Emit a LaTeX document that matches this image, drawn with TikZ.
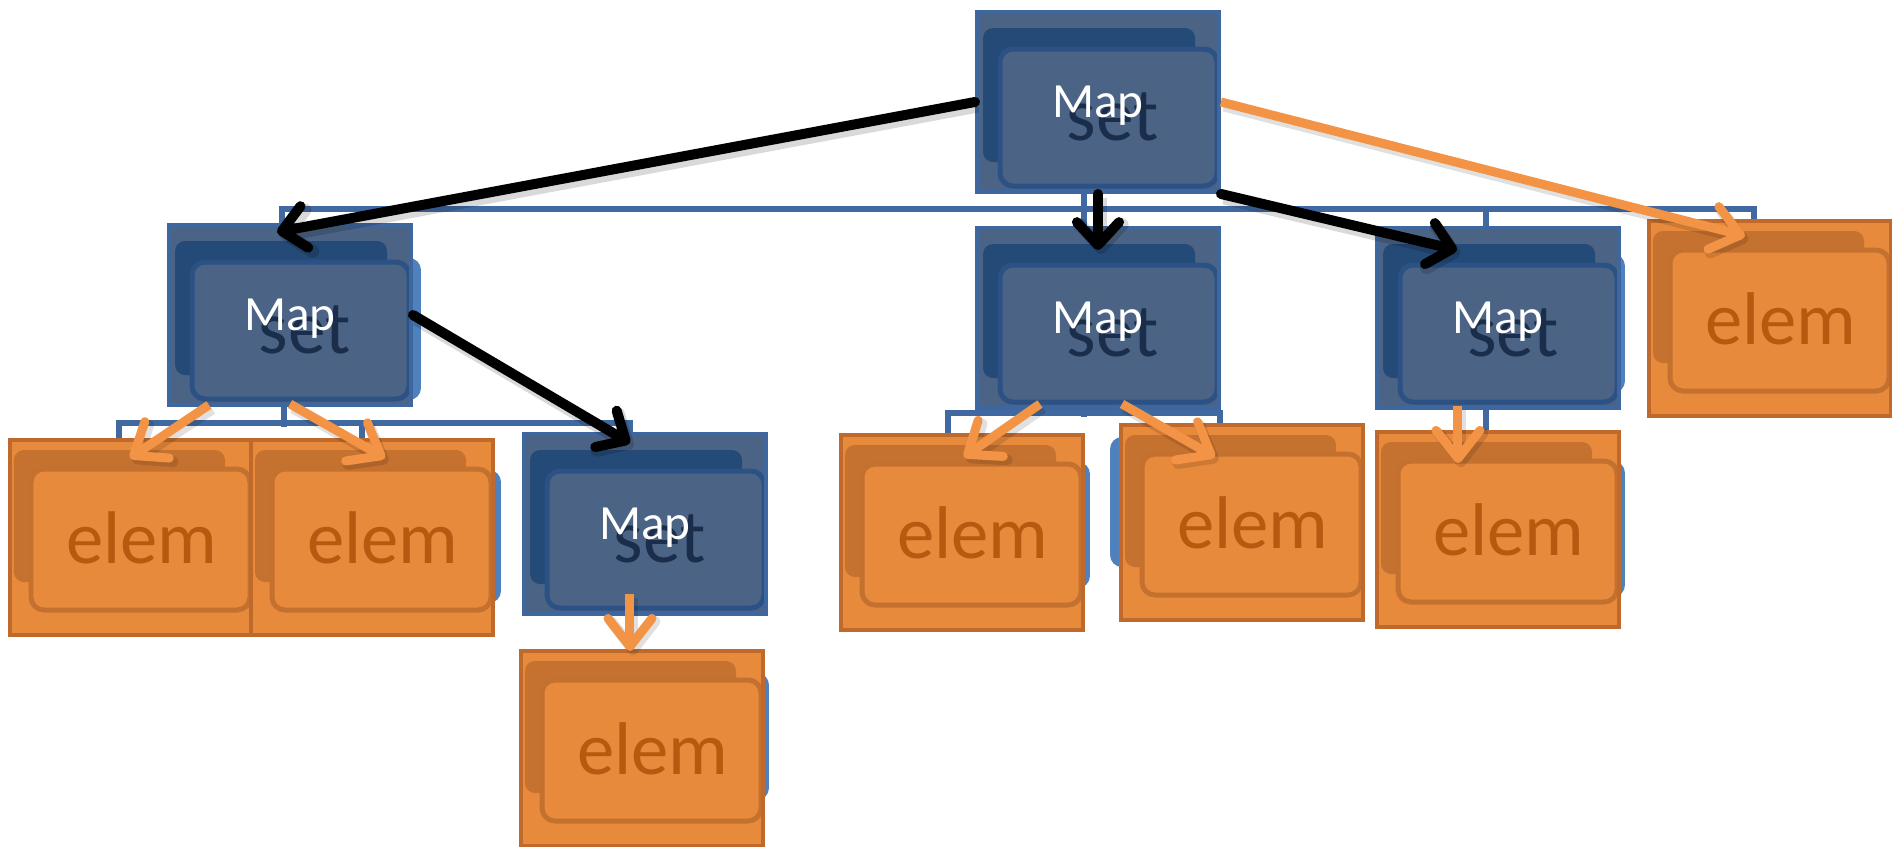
\documentclass[tikz,border=0pt]{standalone}
\usepackage{fontspec}
\setmainfont{Carlito}
\usepackage{xcolor}
\usepackage{tikz}
\usetikzlibrary{arrows.meta, backgrounds}
\definecolor{mapfill}{RGB}{75, 99, 133}
\definecolor{mapedge}{RGB}{62, 103, 160}
\definecolor{mapback}{RGB}{36, 74, 119}
\definecolor{mapfront}{RGB}{44, 82, 133}
\definecolor{setink}{RGB}{26, 46, 76}
\definecolor{elemfill}{RGB}{232, 138, 60}
\definecolor{elemedge}{RGB}{191, 106, 44}
\definecolor{elemback}{RGB}{197, 113, 47}
\definecolor{elemfront}{RGB}{196, 113, 47}
\definecolor{elemink}{RGB}{181, 90, 14}
\definecolor{chartblue}{RGB}{63, 105, 160}
\definecolor{ghostblue}{RGB}{79, 129, 189}
\definecolor{arroworange}{RGB}{243, 147, 69}

\begin{document}
\begin{tikzpicture}[
    x=0.02cm, y=-0.02cm,
    settext/.style={draw=none, fill=none, minimum width=0pt, minimum height=0pt, inner sep=0pt, anchor=base, text=setink, font=\fontsize{43}{50}\selectfont},
    mapbox/.style={draw=mapedge, fill=mapfill, line width=0.08cm, minimum width=4.84cm, minimum height=3.6cm, inner sep=0pt, anchor=north west,
        text=white, text depth=0pt, font=\fontsize{28}{33}\selectfont,
        path picture={
            \fill[mapback, rounded corners=0.2cm] ([shift={(6,16)}]path picture bounding box.north west) rectangle ([shift={(218,150)}]path picture bounding box.north west);
            \draw[mapfront, fill=mapfill, line width=0.1cm, rounded corners=0.26cm] ([shift={(23,37)}]path picture bounding box.north west) rectangle ([shift={(240,174)}]path picture bounding box.north west);
            \node[settext] at ([shift={(136,128)}]path picture bounding box.north west) {set};
        }},
    elembox/.style={draw=elemedge, fill=elemfill, line width=0.08cm, minimum width=4.84cm, minimum height=3.9cm, inner sep=0pt, anchor=north west,
        text=elemink, text depth=0pt, font=\fontsize{42.5}{50}\selectfont, execute at begin node={\hspace*{0.44cm}},
        path picture={
            \fill[elemback, rounded corners=0.2cm] ([shift={(4,10)}]path picture bounding box.north west) rectangle ([shift={(215,142)}]path picture bounding box.north west);
            \draw[elemfront, fill=elemfill, line width=0.1cm, rounded corners=0.26cm] ([shift={(21,29)}]path picture bounding box.north west) rectangle ([shift={(240,170)}]path picture bounding box.north west);
        }},
    chartline/.style={chartblue, line width=0.12cm},
    ghost/.style={fill=ghostblue, rounded corners=0.24cm},
    blackarrow/.style={-{Straight Barb[length=13pt, width=24pt, round]}, line width=0.2cm, line cap=round, black,
        preaction={draw=black, opacity=0.15, line width=0.26cm, transform canvas={shift={(0.06cm,-0.08cm)}}}},
    orangearrow/.style={-{Straight Barb[length=16pt, width=25pt, round]}, line width=0.18cm, arroworange,
        preaction={draw=black, opacity=0.12, line width=0.22cm, transform canvas={shift={(0.06cm,-0.08cm)}}}}
]
    \useasboundingbox (0,0) rectangle (1892,846);

    % Map nodes
    \node[mapbox] (mapRoot) at (975,10) {Map};
    \node[mapbox] (mapLeft) at (167,223) {Map};
    \node[mapbox] (mapMid) at (975,226) {Map};
    \node[mapbox] (mapRight) at (1375,226) {Map};
    \node[mapbox] (mapLow) at (522,432) {Map};

    % elem nodes
    \node[elembox] (elemTop) at (1647,219) {elem};
    \node[elembox] (elemL1) at (8,438) {elem};
    \node[elembox] (elemL2) at (249,438) {elem};
    \node[elembox] (elemLow) at (519,649) {elem};
    \node[elembox] (elemM1) at (839,433) {elem};
    \node[elembox] (elemM2) at (1119,423) {elem};
    \node[elembox] (elemR) at (1375,430) {elem};

    \begin{scope}[on background layer]
        % leftover shapes behind the boxes
        \fill[ghost] ([shift={(-80,35)}]mapLeft.north east) rectangle ([shift={(8,177)}]mapLeft.north east);
        \fill[ghost] ([shift={(-67,28)}]mapRight.north east) rectangle ([shift={(4,167)}]mapRight.north east);
        \fill[ghost] ([shift={(-71,32)}]elemL2.north east) rectangle ([shift={(6,165)}]elemL2.north east);
        \fill[ghost] ([shift={(-61,24)}]elemLow.north east) rectangle ([shift={(4,151)}]elemLow.north east);
        \fill[ghost] ([shift={(-81,29)}]elemM1.north east) rectangle ([shift={(5,155)}]elemM1.north east);
        \fill[ghost] ([shift={(-9,14)}]elemM2.north west) rectangle ([shift={(81,144)}]elemM2.north west);
        \fill[ghost] ([shift={(-67,31)}]elemR.north east) rectangle ([shift={(4,167)}]elemR.north east);

        % chart lines
        \draw[chartline] ([shift={(-8,0)}]mapLeft.north) -- ++(0,-14) -| ([shift={(-16,0)}]elemTop.north);
        \draw[chartline] ([shift={(-14,-20)}]mapRoot.south) -- ([shift={(-14,0)}]mapMid.north);
        \draw[chartline] ([shift={(-12,0)}]mapRight.north) -- ++(0,-17);
        \draw[chartline] ([shift={(-6,-20)}]mapLeft.south) -- ++(0,40);
        \draw[chartline] ([shift={(-12,0)}]elemL1.north) -- ++(0,-15) -| ([shift={(-15,0)}]mapLow.north);
        \draw[chartline] ([shift={(-10,0)}]elemL2.north) -- ++(0,-15);
        \draw[chartline] ([shift={(-14,-20)}]mapMid.south) -- ++(0,27);
        \draw[chartline] ([shift={(-14,0)}]elemM1.north) -- ++(0,-20) -| ([shift={(-22,0)}]elemM2.north);
        \draw[chartline] ([shift={(-12,-20)}]mapRight.south) -- ([shift={(-12,0)}]elemR.north);
    \end{scope}

    % Arrows
    \draw[blackarrow] (mapRoot.west) -- ([shift={(-13,9)}]mapLeft.north);
    \draw[blackarrow] (mapRoot.south) -- ([shift={(0,24)}]mapMid.north);
    \draw[blackarrow] (mapRoot.south east) -- ([shift={(-41,24)}]mapRight.north);
    \draw[orangearrow] (mapRoot.east) -- ([shift={(-25,17)}]elemTop.north);
    \draw[blackarrow] (mapLeft.east) -- ([shift={(-15,11)}]mapLow.north);
    \draw[orangearrow] ([shift={(-81,-2)}]mapLeft.south) -- ([shift={(-1,20)}]elemL1.north);
    \draw[orangearrow] ([shift={(0,-3)}]mapLeft.south) -- ([shift={(13,20)}]elemL2.north);
    \draw[orangearrow] ([shift={(-15,-22)}]mapLow.south) -- ([shift={(-12,2)}]elemLow.north);
    \draw[orangearrow] ([shift={(-58,-6)}]mapMid.south) -- ([shift={(2,24)}]elemM1.north);
    \draw[orangearrow] ([shift={(24,-6)}]mapMid.south) -- ([shift={(-27,34)}]elemM2.north);
    \draw[orangearrow] ([shift={(-40,-4)}]mapRight.south) -- ([shift={(-40,33)}]elemR.north);

\end{tikzpicture}
\end{document}
